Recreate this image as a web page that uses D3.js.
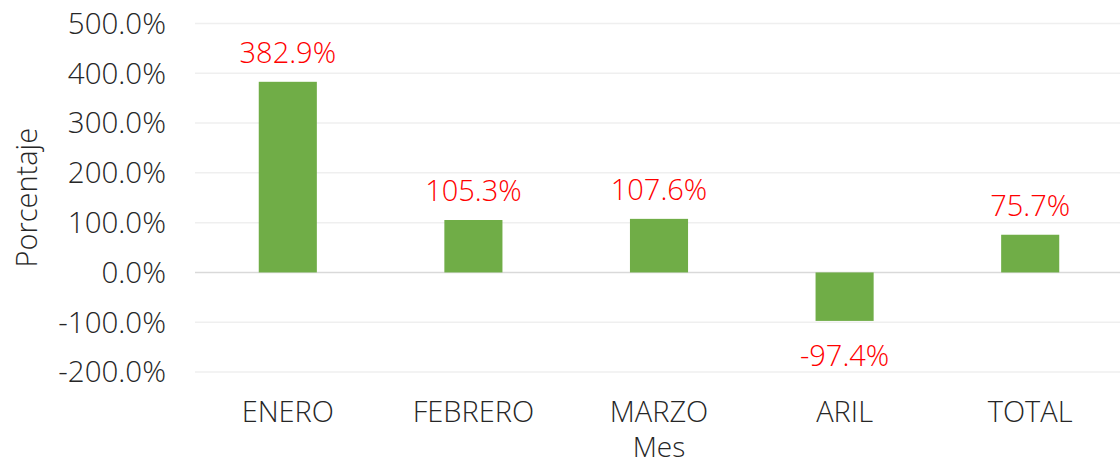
<!DOCTYPE html>
<html lang="es">
<head>
<meta charset="UTF-8">
<title>Porcentaje por mes</title>
<script src="https://d3js.org/d3.v7.min.js"></script>
<style>
  body { margin: 0; background: #fff; }
  svg text { font-family: "Open Sans", sans-serif; font-weight: 300; }
</style>
</head>
<body>
<svg id="chart" width="1120" height="468"></svg>
<script>
  const meses = ["ENERO", "FEBRERO", "MARZO", "ARIL", "TOTAL"];
  const valores = [382.9, 105.3, 107.6, -97.4, 75.7];
  const ticks = [-200, -100, 0, 100, 200, 300, 400, 500];

  const svg = d3.select("#chart");
  const plotLeft = 195, plotRight = 1123, plotTop = 23.5, plotBottom = 372;

  const x = d3.scaleBand().domain(meses).range([plotLeft, plotRight]).paddingInner(0.687).paddingOuter(0.3435);
  const y = d3.scaleLinear().domain([-200, 500]).range([plotBottom, plotTop]);

  // gridlines
  svg.append("g").selectAll("line").data(ticks).join("line")
    .attr("x1", plotLeft).attr("x2", 1120)
    .attr("y1", d => y(d)).attr("y2", d => y(d))
    .attr("stroke", d => d === 0 ? "#d9d9d9" : "#efefef")
    .attr("stroke-width", 1.5);

  // y tick labels
  svg.append("g").selectAll("text").data(ticks).join("text")
    .attr("x", 166).attr("y", d => y(d)).attr("dy", "0.35em")
    .attr("text-anchor", "end").attr("font-size", 29.5).attr("fill", "#262626")
    .text(d => d.toFixed(1) + "%");

  // bars
  svg.append("g").selectAll("rect").data(valores).join("rect")
    .attr("x", (d, i) => x(meses[i]))
    .attr("width", x.bandwidth())
    .attr("y", d => y(Math.max(0, d)))
    .attr("height", d => Math.abs(y(d) - y(0)))
    .attr("fill", "#70ad47");

  // data labels
  svg.append("g").selectAll("text").data(valores).join("text")
    .attr("x", (d, i) => x(meses[i]) + x.bandwidth() / 2)
    .attr("y", d => d >= 0 ? y(d) - 19 : y(d) + 45)
    .attr("text-anchor", "middle").attr("font-size", 29).attr("fill", "#ff0000")
    .text(d => d.toFixed(1) + "%");

  // category labels
  svg.append("g").selectAll("text").data(meses).join("text")
    .attr("x", d => x(d) + x.bandwidth() / 2).attr("y", 422)
    .attr("text-anchor", "middle").attr("font-size", 29).attr("fill", "#262626")
    .text(d => d);

  // axis titles
  svg.append("text")
    .attr("transform", `translate(37,${(plotTop + plotBottom) / 2}) rotate(-90)`)
    .attr("text-anchor", "middle").attr("font-size", 29).attr("fill", "#262626")
    .text("Porcentaje");
  svg.append("text")
    .attr("x", (plotLeft + plotRight) / 2).attr("y", 457)
    .attr("text-anchor", "middle").attr("font-size", 28).attr("fill", "#262626")
    .text("Mes");
</script>
</body>
</html>
